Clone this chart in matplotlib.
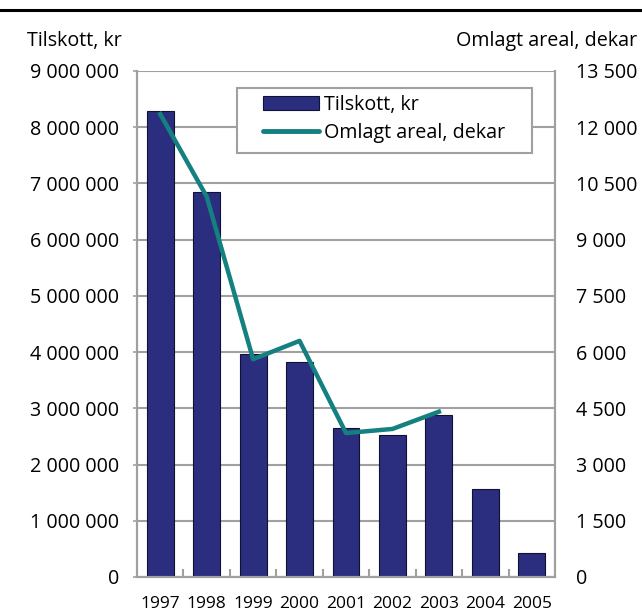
import matplotlib
matplotlib.use("Agg")
import matplotlib.pyplot as plt
from matplotlib.lines import Line2D
from matplotlib.patches import Rectangle
from matplotlib.ticker import FixedLocator, FuncFormatter
import numpy as np

plt.rcParams['font.family'] = ['Open Sans', 'DejaVu Sans']

years = ["1997", "1998", "1999", "2000", "2001", "2002", "2003", "2004", "2005"]
tilskott = [8290000, 6840000, 3970000, 3820000, 2645000, 2530000, 2875000, 1565000, 430000]
areal_years = ["1997", "1998", "1999", "2000", "2001", "2002", "2003"]
areal = [12350, 10150, 5810, 6300, 3840, 3950, 4410]

left_ticks = [0, 1000000, 2000000, 3000000, 4000000, 5000000, 6000000, 7000000, 8000000, 9000000]
right_ticks = [0, 1500, 3000, 4500, 6000, 7500, 9000, 10500, 12000, 13500]

bar_color = "#2B2E7E"
line_color = "#148080"
grid_color = "#A0A0A0"
FS = 14.2

def spaced(v, pos=None):
    return f"{int(v):,}".replace(",", " ")

W, H = 642, 614
fig = plt.figure(figsize=(W/100, H/100), dpi=100)
ax = fig.add_axes([137/W, 1 - 577/H, (555 - 137)/W, (577 - 71)/H])
ax2 = ax.twinx()

x = np.arange(len(years))
ax.bar(x, tilskott, width=0.58, color=bar_color, edgecolor="#111133", linewidth=0.8, zorder=2)
ax.set_xlim(-0.5, len(years) - 0.5)
ax.set_ylim(0, 9000000)
ax.yaxis.set_major_locator(FixedLocator(left_ticks))
ax.yaxis.set_major_formatter(FuncFormatter(spaced))
ax.grid(axis="y", color=grid_color, linewidth=1.5, zorder=0)
ax.set_axisbelow(True)
ax.set_xticks(x)
ax.set_xticklabels(years)
ax.tick_params(axis="x", length=0, pad=14, labelsize=12.5, colors="#000000")
ax.set_xticks(np.arange(0.5, len(years) - 1, 1), minor=True)
ax.tick_params(axis="x", which="minor", direction="in", length=6, width=1.5, color=grid_color)
ax.tick_params(axis="y", length=3, width=1.2, color=grid_color, pad=10, labelsize=FS,
               labelcolor="#000000")

xi = [years.index(y) for y in areal_years]
ax2.plot(xi, areal, color=line_color, linewidth=3.2, zorder=3)
ax2.set_ylim(0, 13500)
ax2.yaxis.set_major_locator(FixedLocator(right_ticks))
ax2.yaxis.set_major_formatter(FuncFormatter(spaced))
ax2.tick_params(axis="y", length=0, pad=15, labelsize=FS)

for a in (ax, ax2):
    for s in a.spines.values():
        s.set_color(grid_color)
        s.set_linewidth(1.5)
    a.spines["top"].set_visible(False)

# legend frame
fig.add_artist(Rectangle((237/W, 1 - 153/H), (532 - 237)/W, (153 - 88)/H,
                         transform=fig.transFigure, facecolor="white",
                         edgecolor=grid_color, linewidth=1.5, zorder=5))
handles = [plt.Rectangle((0, 0), 1, 1, facecolor=bar_color, edgecolor="#111133", linewidth=0.8),
           Line2D([0], [0], color=line_color, linewidth=3.5, solid_capstyle="round")]
leg = fig.legend(handles, ["Tilskott, kr", "Omlagt areal, dekar"],
                 loc="upper left", bbox_to_anchor=(263/W, 1 - 95/H),
                 fontsize=FS, frameon=False, borderpad=0, handlelength=2.85,
                 handletextpad=0.25, labelspacing=0.4, borderaxespad=0)
leg.set_zorder(6)

fig.text(27/W, 1 - 41/H, "Tilskott, kr", fontsize=FS, ha="left", va="center")
fig.text(637/W, 1 - 41/H, "Omlagt areal, dekar", fontsize=FS, ha="right", va="center")

fig.add_artist(Line2D([0, 1], [1 - 10/H, 1 - 10/H], color="black", linewidth=2.2,
                      transform=fig.transFigure))

fig.savefig("out.png", dpi=100)
